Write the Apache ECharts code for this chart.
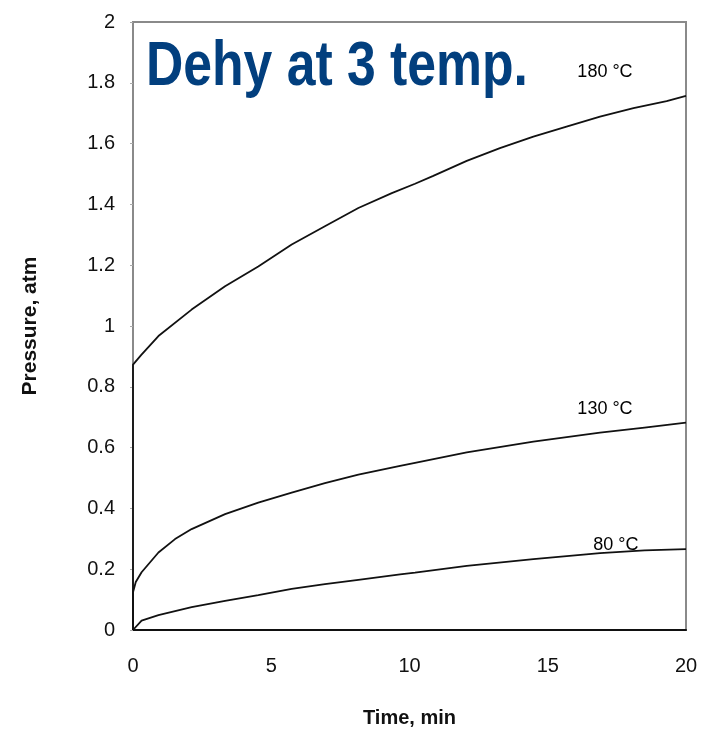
<!DOCTYPE html>
<html>
<head>
<meta charset="utf-8">
<script src="https://cdn.jsdelivr.net/npm/echarts@6/dist/echarts.min.js"></script>
<style>html,body{margin:0;padding:0;background:#fff}#c{width:704px;height:733px}</style>
</head>
<body>
<div id="c"></div>
<script>
const titleText = 'Dehy at 3 temp.';
const xName = 'Time, min';
const yName = 'Pressure, atm';

const s180 = [[0,0],[0,0.873],[0.3,0.905],[0.92,0.967],[2.12,1.054],[3.33,1.131],[4.53,1.196],[5.74,1.268],[6.94,1.328],[8.15,1.388],[9.36,1.437],[10.2,1.468],[10.86,1.494],[12.07,1.543],[13.27,1.585],[14.48,1.623],[15.68,1.656],[16.89,1.689],[18.1,1.717],[19.3,1.740],[20,1.757]];
const s130 = [[0,0],[0,0.124],[0.1,0.158],[0.31,0.19],[0.92,0.255],[1.52,0.299],[2.12,0.332],[3.33,0.381],[4.53,0.419],[5.74,0.452],[6.94,0.483],[8.15,0.511],[9.66,0.540],[10.2,0.550],[12.07,0.584],[14.48,0.620],[16.89,0.649],[18.5,0.666],[20,0.682]];
const s80 = [[0,0],[0.31,0.031],[0.92,0.049],[2.12,0.075],[3.33,0.096],[4.53,0.115],[5.74,0.135],[6.94,0.151],[8.15,0.165],[9.66,0.183],[10.2,0.189],[12.07,0.211],[14.48,0.233],[16.89,0.253],[18.5,0.262],[20,0.266]];

const curveNames = ['180 °C','130 °C','80 °C'];
const curveLabelPos = [[17.07,1.836],[17.07,0.726],[17.46,0.279]];

const chart = echarts.init(document.getElementById('c'));
const font = 'Liberation Sans, Arial, sans-serif';
const lineStyle = {color:'#111', width:1.8};
chart.setOption({
  animation:false,
  backgroundColor:'#fff',
  graphic:[{type:'text',x:146,y:36,scaleX:0.82,z:10,
    style:{text:titleText,font:'bold 63px "Liberation Sans", Arial, sans-serif',fill:'#023F7E',textVerticalAlign:'top',verticalAlign:'top'}}],
  grid:{left:133,right:18,top:22,bottom:102,show:true,borderColor:'#8a8a8a',borderWidth:2,backgroundColor:'transparent'},
  xAxis:{type:'value',min:0,max:20,interval:5,name:xName,nameLocation:'middle',nameGap:78,
    nameTextStyle:{fontFamily:font,fontWeight:'bold',fontSize:20,color:'#111'},
    axisLine:{show:true,lineStyle:{color:'#111',width:2}},
    axisTick:{show:false},splitLine:{show:false},
    axisLabel:{margin:26,fontFamily:font,fontSize:20,color:'#111'}},
  yAxis:{type:'value',min:0,max:2,interval:0.2,name:yName,nameLocation:'middle',nameGap:92,
    nameTextStyle:{fontFamily:font,fontWeight:'bold',fontSize:21,color:'#111'},
    axisLine:{show:false},axisTick:{show:true,length:3,lineStyle:{color:'#aaa'}},splitLine:{show:false},
    axisLabel:{margin:18,fontFamily:font,fontSize:20,color:'#111'}},
  series:[
    {type:'line',data:s180,showSymbol:false,lineStyle:lineStyle,z:3},
    {type:'line',data:s130,showSymbol:false,lineStyle:lineStyle,z:3},
    {type:'line',data:s80,showSymbol:false,lineStyle:lineStyle,z:3},
    {type:'scatter',symbolSize:0,z:4,itemStyle:{opacity:1},
      data:curveLabelPos.map((p,i)=>({value:p,name:curveNames[i]})),
      label:{show:true,position:'inside',formatter:'{b}',fontFamily:font,fontSize:18,color:'#000'}}
  ]
});
</script>
</body>
</html>
